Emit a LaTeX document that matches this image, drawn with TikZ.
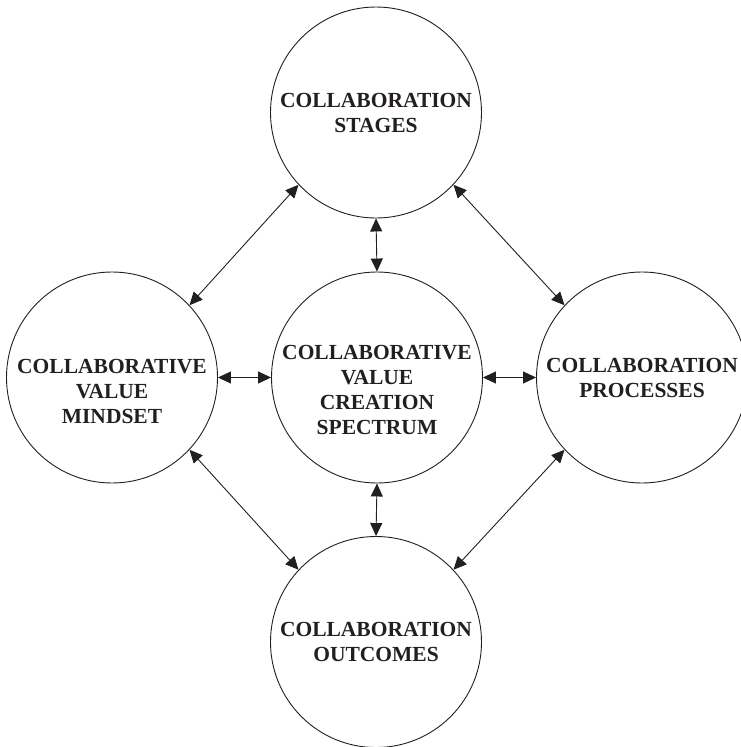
\documentclass[tikz,border=0pt]{standalone}
\usepackage{fontspec}
\setmainfont{Liberation Serif}
\usetikzlibrary{arrows.meta}
\definecolor{ink}{RGB}{35,31,32}
\begin{document}
\begin{tikzpicture}[x=1pt,y=-1pt,
  bubble/.style={circle,draw=ink,line width=0.9pt,minimum size=211pt,inner sep=0pt},
  caption/.style={align=center,text=ink,font=\bfseries\fontsize{21.5}{25}\selectfont,inner sep=0pt},
  link/.style={draw=ink,line width=0.9pt,{Triangle[length=13pt,width=12pt]}-{Triangle[length=13pt,width=12pt]}}]
\useasboundingbox (0,0) rectangle (741,747);
\clip (0,0) rectangle (741,747);
% circles
\node[bubble] (top) at (376,112.5) {};
\node[bubble] (mid) at (377,377.5) {};
\node[bubble] (lft) at (112,377.5) {};
\node[bubble] (rgt) at (642,377.5) {};
\node[bubble] (bot) at (376,642) {};
% captions
\node[caption] (ttop) at (376,112.5) {COLLABORATION\\STAGES};
\node[caption] (tmid) at (377,390) {COLLABORATIVE\\VALUE\\CREATION\\SPECTRUM};
\node[caption] (tlft) at (112,391) {COLLABORATIVE\\VALUE\\MINDSET};
\node[caption] (trgt) at (642,378) {COLLABORATION\\PROCESSES};
\node[caption] (tbot) at (376,642) {COLLABORATION\\OUTCOMES};
% connectors
\draw[link] (top.south) -- (mid.north);
\draw[link] (mid.south) -- (bot.north);
\draw[link] (lft.east) -- (mid.west);
\draw[link] (mid.east) -- (rgt.west);
\draw[link] (top.223) -- (lft.43);
\draw[link] (top.317) -- (rgt.137);
\draw[link] (lft.317) -- (bot.137);
\draw[link] (rgt.223) -- (bot.43);
\end{tikzpicture}
\end{document}
